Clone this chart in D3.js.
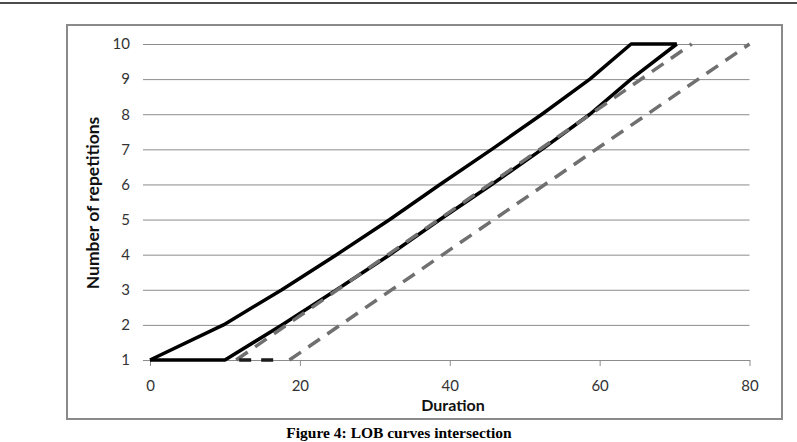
<!DOCTYPE html>
<html>
<head>
<meta charset="utf-8">
<script src="https://cdn.jsdelivr.net/npm/d3@7"></script>
<style>
  html, body { margin: 0; padding: 0; background: #fff; }
  svg { display: block; }
</style>
</head>
<body>
<svg id="chart" width="797" height="442"></svg>
<script>
// ---- Data ----
const xTicks = [0, 20, 40, 60, 80];
const yTicks = [1, 2, 3, 4, 5, 6, 7, 8, 9, 10];

// Solid LOB curve (upper edge)
const upperDur = [0, 9.8, 17.6, 24.9, 32.0, 38.7, 45.6, 52.3, 58.7, 64.2, 70.3];
const upperRep = [1, 2, 3, 4, 5, 6, 7, 8, 9, 10, 10];
// Solid LOB curve (lower edge)
const lowerDur = [0, 10, 17.6, 24.9, 32.0, 38.7, 45.6, 52.3, 58.7, 64.2, 70.3];
const lowerRep = [1, 1, 2, 3, 4, 5, 6, 7, 8, 9, 10];
// Dashed LOB curve (upper edge)
const dashUpperDur = [11.5, 72.3];
const dashUpperRep = [1, 10];
// Dashed LOB curve (lower edge): flat start then rising
const dashFlatDur = [11.5, 18.6];
const dashFlatRep = [1, 1];
const dashLowerDur = [18.6, 80];
const dashLowerRep = [1, 10];

const xTitle = "Duration";
const yTitle = "Number of repetitions";
const caption = "Figure 4: LOB curves intersection";

// ---- Drawing ----
const svg = d3.select("#chart");
const font = "Lato, 'Open Sans', sans-serif";

// top rule
svg.append("line").attr("x1", 0).attr("x2", 797).attr("y1", 3).attr("y2", 3)
  .attr("stroke", "#111").attr("stroke-width", 1.5);

// frame
svg.append("rect").attr("x", 67).attr("y", 25).attr("width", 715).attr("height", 394)
  .attr("fill", "none").attr("stroke", "#8a8a8a").attr("stroke-width", 2);

const x = d3.scaleLinear().domain([0, 80]).range([150, 749.5]);
const y = d3.scaleLinear().domain([1, 10]).range([360, 44]);

// y axis with gridlines
const yAxis = svg.append("g").attr("transform", "translate(143,0)")
  .call(d3.axisLeft(y).tickValues(yTicks).tickFormat(d3.format("d"))
    .tickSizeInner(-(749.5 - 143)).tickSizeOuter(0).tickPadding(13));
yAxis.select(".domain").remove();
yAxis.selectAll(".tick line").attr("stroke", "#8c8c8c").attr("stroke-width", 1);
yAxis.selectAll(".tick text").attr("font-family", font).attr("font-size", 15).attr("fill", "#333");

// x axis
const xAxis = svg.append("g").attr("transform", "translate(0,360)")
  .call(d3.axisBottom(x).tickValues(xTicks).tickSizeInner(6).tickSizeOuter(0).tickPadding(14));
xAxis.select(".domain").attr("stroke", "#8c8c8c");
xAxis.selectAll(".tick line").attr("stroke", "#8c8c8c");
xAxis.selectAll(".tick text").attr("font-family", font).attr("font-size", 15).attr("fill", "#333");

const line = d3.line().x(d => x(d[0])).y(d => y(d[1]));
const zip = (a, b) => a.map((v, i) => [v, b[i]]);

// solid curves
svg.append("path").datum(zip(upperDur, upperRep)).attr("d", line)
  .attr("fill", "none").attr("stroke", "#000").attr("stroke-width", 3.5).attr("stroke-linejoin", "round");
svg.append("path").datum(zip(lowerDur, lowerRep)).attr("d", line)
  .attr("fill", "none").attr("stroke", "#000").attr("stroke-width", 3.5).attr("stroke-linejoin", "round");

// dashed curves
const dash = "14,9";
svg.append("path").datum(zip(dashUpperDur, dashUpperRep)).attr("d", line)
  .attr("fill", "none").attr("stroke", "#707070").attr("stroke-width", 3.5).attr("stroke-dasharray", dash);
svg.append("path").datum(zip(dashFlatDur, dashFlatRep)).attr("d", line)
  .attr("fill", "none").attr("stroke", "#1a1a1a").attr("stroke-width", 3.5).attr("stroke-dasharray", "0,3,12,10,12,20");
svg.append("path").datum(zip(dashLowerDur, dashLowerRep)).attr("d", line)
  .attr("fill", "none").attr("stroke", "#707070").attr("stroke-width", 3.5).attr("stroke-dasharray", dash);

// axis titles
svg.append("text").attr("x", 453).attr("y", 411).attr("text-anchor", "middle")
  .attr("font-family", font).attr("font-weight", "bold").attr("font-size", 16).attr("fill", "#111")
  .text(xTitle);
svg.append("text").attr("transform", "translate(99,203) rotate(-90)").attr("text-anchor", "middle")
  .attr("font-family", font).attr("font-weight", "bold").attr("font-size", 17.5).attr("fill", "#111")
  .text(yTitle);

// caption
svg.append("text").attr("x", 399).attr("y", 438).attr("text-anchor", "middle")
  .attr("font-family", "'Liberation Serif', 'Times New Roman', serif").attr("font-weight", "bold")
  .attr("font-size", 15.5).attr("fill", "#000")
  .text(caption);
</script>
</body>
</html>
